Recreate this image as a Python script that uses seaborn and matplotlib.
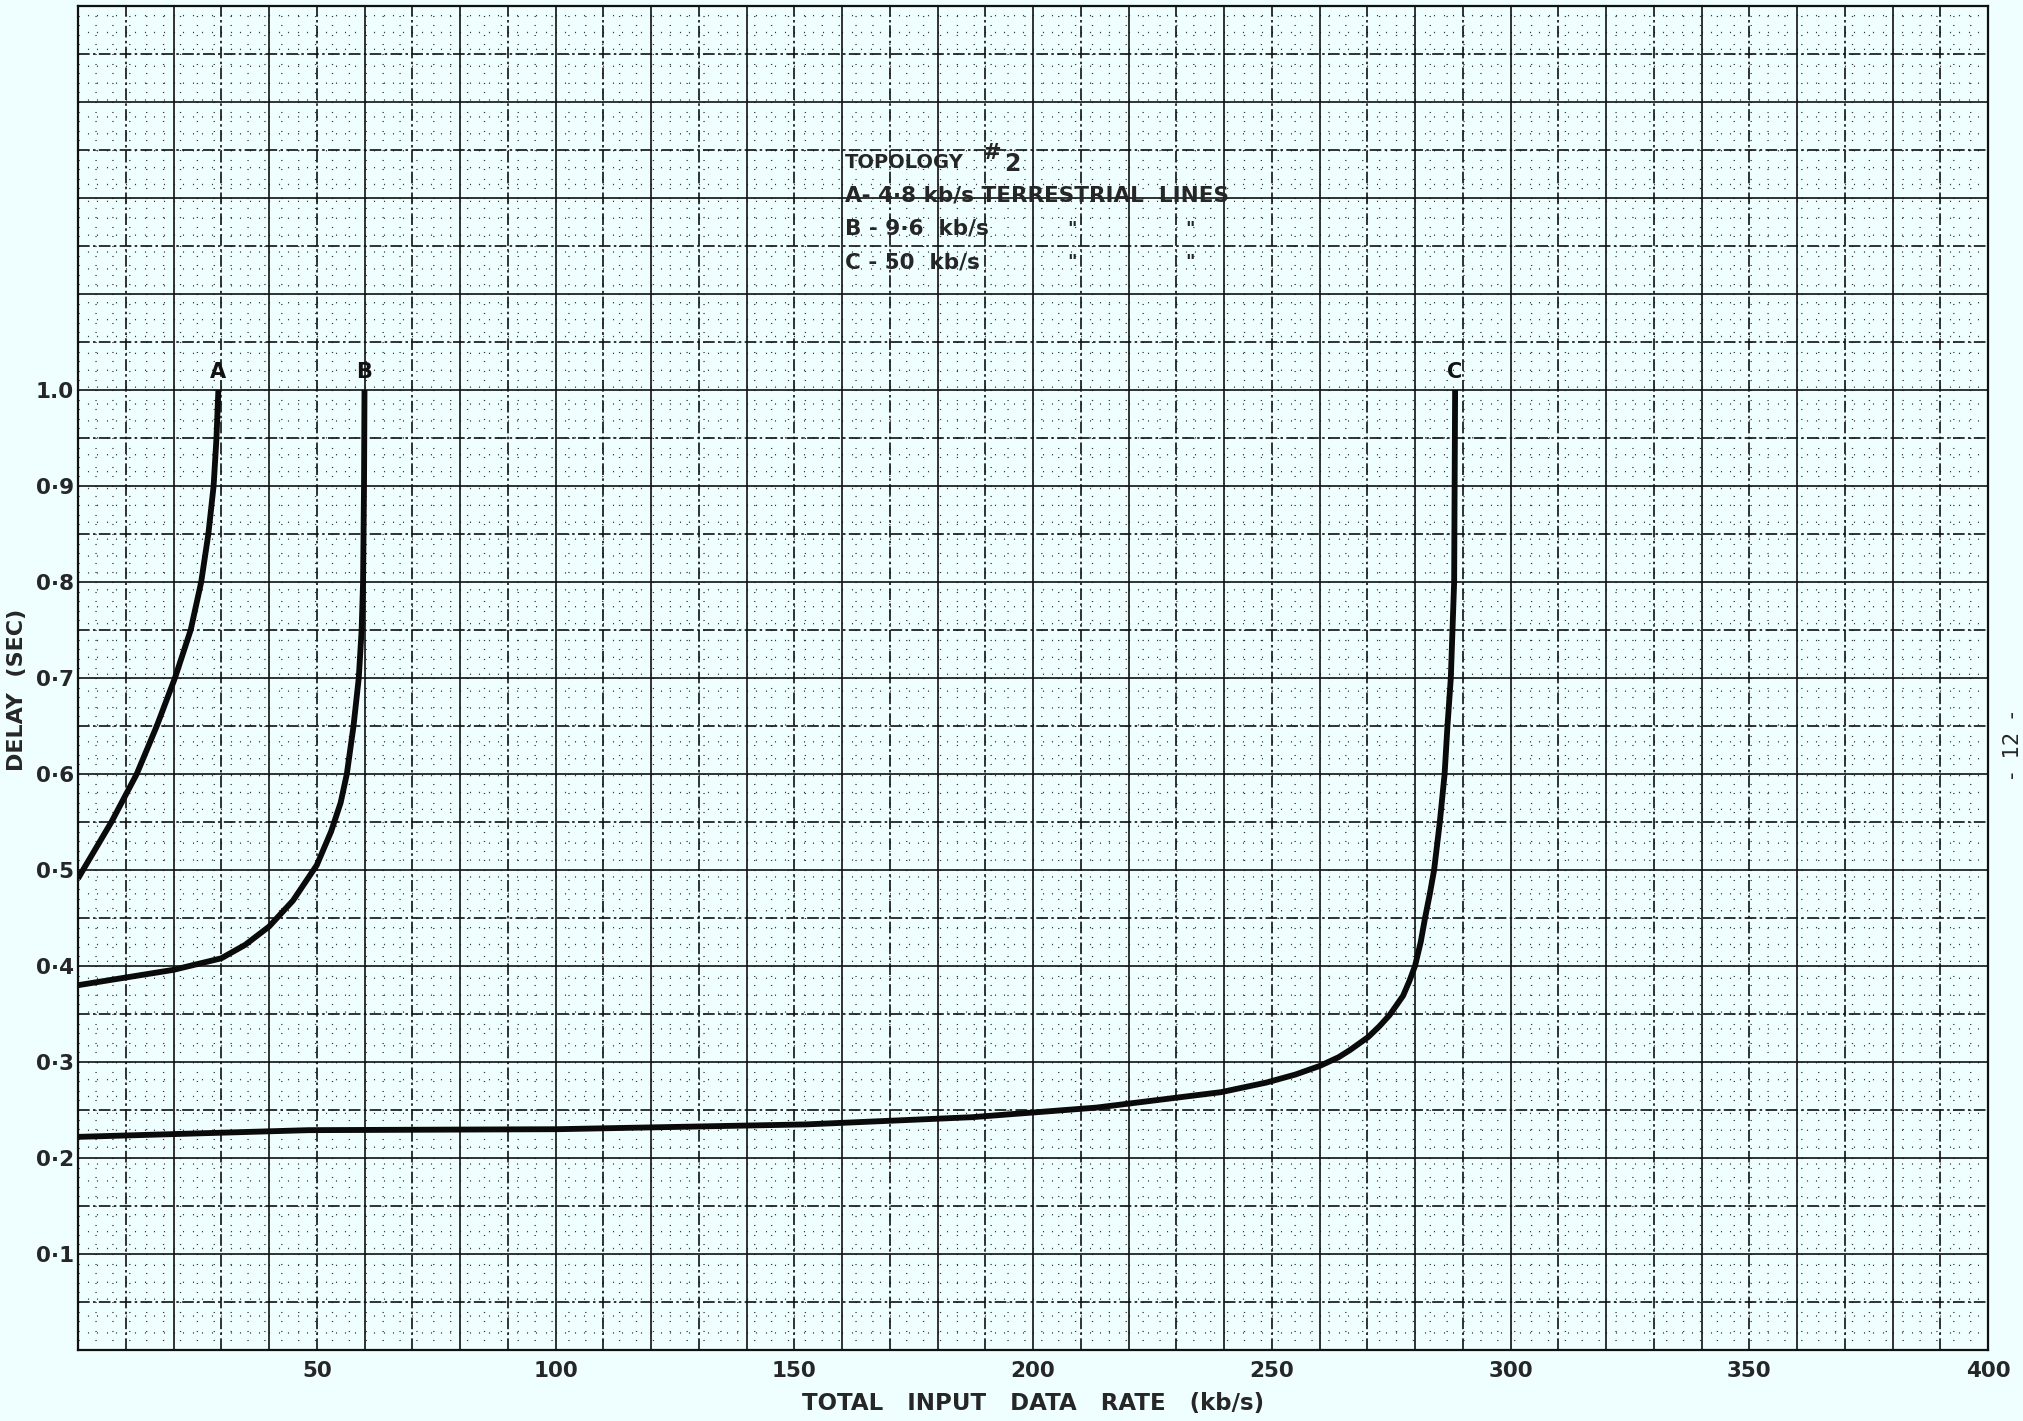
import numpy as np
import pandas as pd
import matplotlib
matplotlib.use('Agg')
import matplotlib.pyplot as plt
import seaborn as sns

# values
rate_a = [0, 1.05, 7.0, 12.3, 16.5, 20.3, 23.6, 25.8, 27.3, 28.4, 29.0, 29.4]
delay_a = [0.491, 0.500, 0.550, 0.600, 0.650, 0.700, 0.750, 0.800, 0.850, 0.900, 0.950, 1.000]

rate_b = [0, 10, 20, 30, 35, 40, 45, 50, 53, 55, 56.3, 57.7, 58.8, 59.4, 59.7, 59.9, 60.0]
delay_b = [0.380, 0.388, 0.396, 0.408, 0.422, 0.441, 0.468, 0.505, 0.540, 0.570, 0.600, 0.650,
           0.700, 0.750, 0.800, 0.900, 1.000]

rate_c = [0, 48.3, 100.4, 152.5, 187.2, 213.3, 239.4, 248.8, 255.0, 260.1, 264.0, 266.4, 270.2,
          272.5, 274.7, 277.5, 278.8, 280.0, 281.2, 282.1, 283.1, 284.0, 285.2, 286.2, 286.8,
          287.5, 288.2, 288.4]
delay_c = [0.222, 0.229, 0.230, 0.235, 0.2425, 0.2525, 0.2686, 0.2785, 0.287, 0.296, 0.305, 0.3125,
           0.326, 0.337, 0.349, 0.369, 0.384, 0.400, 0.425, 0.450, 0.475, 0.500, 0.550, 0.600,
           0.650, 0.700, 0.800, 1.000]

curve_names = ['A', 'B', 'C']
x_ticks = [50, 100, 150, 200, 250, 300, 350, 400]
y_ticks = [0.1, 0.2, 0.3, 0.4, 0.5, 0.6, 0.7, 0.8, 0.9, 1.0]
y_tick_labels = ['0\u00b71', '0\u00b72', '0\u00b73', '0\u00b74', '0\u00b75',
                 '0\u00b76', '0\u00b77', '0\u00b78', '0\u00b79', '1.0']
legend_lines = ['A- 4\u00b78 kb/s TERRESTRIAL  LINES', 'B - 9\u00b76  kb/s', 'C - 50  kb/s']

df = pd.concat([
    pd.DataFrame({'rate': r, 'delay': d, 'curve': n})
    for r, d, n in zip([rate_a, rate_b, rate_c], [delay_a, delay_b, delay_c], curve_names)
])

sns.set_theme(style='white')
plt.rcParams['font.family'] = ['DejaVu Sans']
paper = '#effefe'

fig = plt.figure(figsize=(20.23, 14.21), dpi=100, facecolor=paper)
ax = fig.add_axes([78 / 2023, 1 - 1350 / 1421, 1910 / 2023, 1344 / 1421])
ax.set_facecolor(paper)
ax.set_xlim(0, 400)
ax.set_ylim(0, 1.4)

# fine dotted sub-grid of the graph paper
ax.vlines(np.arange(2, 400, 2), 0, 1.4, colors='#3a3a3a', lw=0.8,
          linestyles=(0, (1.2, 14)), zorder=0)
ax.hlines(np.arange(0.01, 1.4, 0.01), 0, 400, colors='#3a3a3a', lw=0.8,
          linestyles=(0, (1.2, 14)), zorder=0)
# heavier lines every 10 kb/s and 0.05 s
for v in np.arange(10, 400, 10):
    ls = '-' if v % 20 == 0 else (0, (7, 2, 1.5, 2))
    ax.axvline(v, color='#111111', lw=1.2, ls=ls, zorder=1)
for h in np.arange(0.05, 1.4, 0.05):
    ls = '-' if round(h * 100) % 10 == 0 else (0, (7, 2, 1.5, 2))
    ax.axhline(h, color='#111111', lw=1.2, ls=ls, zorder=1)

sns.lineplot(data=df, x='rate', y='delay', hue='curve', units='curve', estimator=None,
             sort=False, palette=['#0a0a0a'] * 3, lw=4.2, legend=False, ax=ax, zorder=3,
             solid_joinstyle='round', solid_capstyle='butt')

for name, r, d in zip(curve_names, [rate_a, rate_b, rate_c], [delay_a, delay_b, delay_c]):
    ax.text(r[-1], d[-1] + 0.008, name, ha='center', va='bottom',
            fontsize=15, fontweight='bold', color='#111111')

ax.text(160.6, 1.2375, 'TOPOLOGY', fontsize=14, fontweight='bold', va='center', ha='left')
ax.text(189.5, 1.247, '#', fontsize=16, fontweight='bold', va='center', ha='left')
ax.text(194.0, 1.235, '2', fontsize=17, fontweight='bold', va='center', ha='left')
for i, line in enumerate(legend_lines):
    ax.text(160.6, 1.203 - 0.035 * i, line, fontsize=15.5, fontweight='bold',
            va='center', ha='left')
for i in (1, 2):
    ax.text(208.2, 1.203 - 0.035 * i, '"', fontsize=13, fontweight='bold', va='center', ha='center')
    ax.text(232.9, 1.203 - 0.035 * i, '"', fontsize=13, fontweight='bold', va='center', ha='center')

ax.set_xticks(x_ticks)
ax.set_xticklabels([str(t) for t in x_ticks], fontsize=15.5, fontweight='bold')
ax.set_yticks(y_ticks)
ax.set_yticklabels(y_tick_labels, fontsize=15.5, fontweight='bold')
ax.tick_params(axis='x', length=0, pad=8)
ax.tick_params(axis='y', length=0, pad=3)
ax.grid(False)

ax.set_xlabel('TOTAL   INPUT   DATA   RATE   (kb/s)', fontsize=16.5, fontweight='bold', labelpad=8)
ax.set_ylabel('')
fig.text(17 / 2023, 1 - 690 / 1421, 'DELAY  (SEC)', rotation=90, fontsize=16,
         fontweight='bold', ha='center', va='center')

for s in ax.spines.values():
    s.set_color('#111111')
    s.set_linewidth(1.6)

fig.text(2013 / 2023, 1 - 745 / 1421, '-  12  -', rotation=90, fontsize=15,
         ha='center', va='center')

fig.savefig('out.png', dpi=100, facecolor=paper)
